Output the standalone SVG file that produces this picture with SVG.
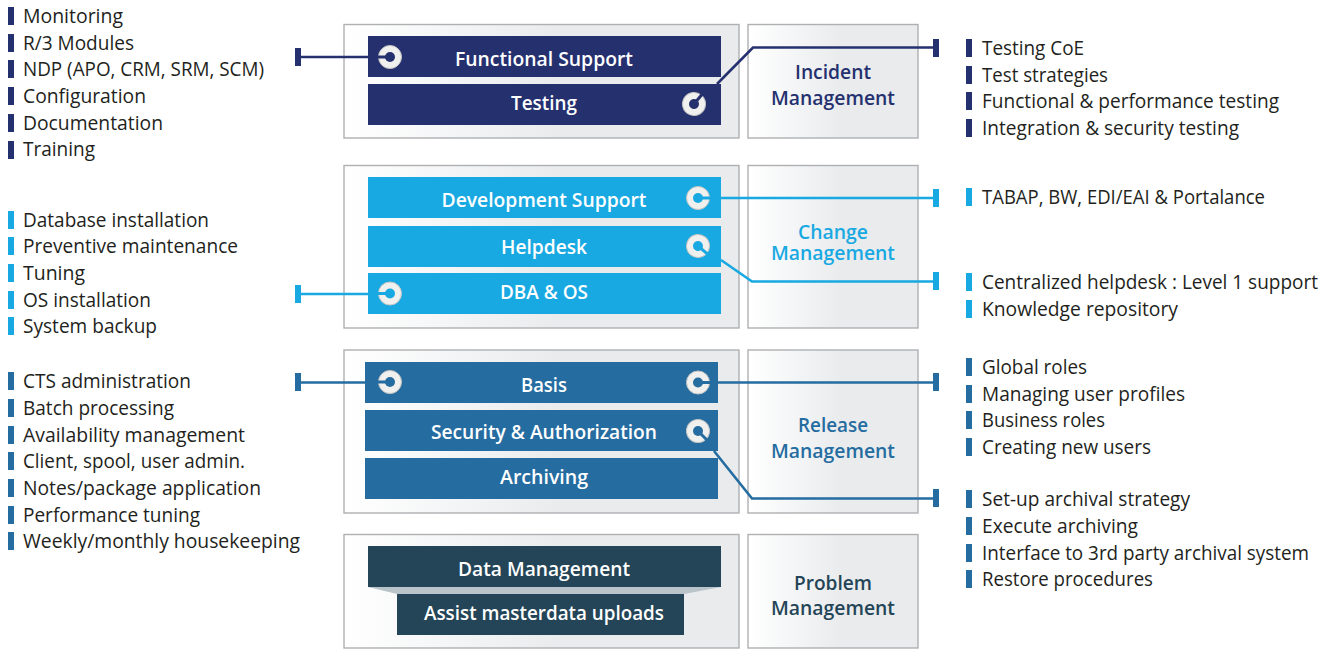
<svg xmlns="http://www.w3.org/2000/svg" width="1334" height="649" viewBox="0 0 1334 649">
<style>
text{font-family:"Open Sans","Noto Sans","Liberation Sans",sans-serif}
.li{font-size:19.5px;fill:#231f20}
.bx{font-size:20.5px;font-weight:600;fill:#fff;text-anchor:middle}
.sd{font-size:20px;font-weight:600;text-anchor:middle}
.panel{fill:url(#pg);stroke:#aeb0b2;stroke-width:1.4}
.navy{fill:#25306f;color:#25306f}
.sky{fill:#19a9e2;color:#19a9e2}
.mid{fill:#256ca1;color:#256ca1}
.dark{fill:#244557;color:#244557}
.ln{fill:none;stroke-width:2.6}
</style>
<defs>
<linearGradient id="pg" x1="0" x2="1" y1="0" y2="0"><stop offset="0" stop-color="#fff"/><stop offset=".55" stop-color="#e9ebed"/><stop offset="1" stop-color="#e9ebed"/></linearGradient>
<g id="ring"><circle r="11.500" fill="#f0f0ee" stroke="#c4c4c4" stroke-width="1"/><circle r="5" fill="currentColor"/><path d="M0 0H13" stroke="currentColor" stroke-width="3"/></g>
</defs>
<rect width="1334" height="649" fill="#fff"/>

<g id="group-incident">
<rect class="panel" x="344" y="24.500" width="395" height="113.500"/>
<rect class="panel" x="748" y="24.500" width="170" height="113.500"/>
<text class="sd navy" x="833" y="79" textLength="76" lengthAdjust="spacingAndGlyphs">Incident</text>
<text class="sd navy" x="833" y="105" textLength="124" lengthAdjust="spacingAndGlyphs">Management</text>
</g>
<g id="group-change">
<rect class="panel" x="344" y="165.500" width="395" height="162.500"/>
<rect class="panel" x="748" y="165.500" width="170" height="162.500"/>
<text class="sd sky" x="833" y="239" textLength="70" lengthAdjust="spacingAndGlyphs">Change</text>
<text class="sd sky" x="833" y="260" textLength="124" lengthAdjust="spacingAndGlyphs">Management</text>
</g>
<g id="group-release">
<rect class="panel" x="344" y="350" width="395" height="163"/>
<rect class="panel" x="748" y="350" width="170" height="163"/>
<text class="sd mid" x="833" y="432" textLength="70" lengthAdjust="spacingAndGlyphs">Release</text>
<text class="sd mid" x="833" y="458" textLength="124" lengthAdjust="spacingAndGlyphs">Management</text>
</g>
<g id="group-problem">
<rect class="panel" x="344" y="534.500" width="395" height="113.500"/>
<rect class="panel" x="748" y="534.500" width="170" height="113.500"/>
<text class="sd dark" x="833" y="590" textLength="78" lengthAdjust="spacingAndGlyphs">Problem</text>
<text class="sd dark" x="833" y="615" textLength="124" lengthAdjust="spacingAndGlyphs">Management</text>
</g>

<g id="node-functional-support">
<rect class="navy" x="368" y="36" width="353" height="41"/>
<use href="#ring" class="navy" transform="translate(390 57) rotate(180)"/>
<text class="bx" x="544" y="66" textLength="178" lengthAdjust="spacingAndGlyphs">Functional Support</text>
</g>
<g id="node-testing">
<rect class="navy" x="368" y="84" width="353" height="41"/>
<use href="#ring" class="navy" transform="translate(694 104) rotate(-50)"/>
<text class="bx" x="544" y="110" textLength="66" lengthAdjust="spacingAndGlyphs">Testing</text>
</g>
<g id="node-development-support">
<rect class="sky" x="368" y="177" width="353" height="41"/>
<use href="#ring" class="sky" transform="translate(698 198)"/>
<text class="bx" x="544" y="207" textLength="205" lengthAdjust="spacingAndGlyphs">Development Support</text>
</g>
<g id="node-helpdesk">
<rect class="sky" x="368" y="226" width="353" height="41"/>
<use href="#ring" class="sky" transform="translate(698 246) rotate(40)"/>
<text class="bx" x="544" y="254" textLength="86" lengthAdjust="spacingAndGlyphs">Helpdesk</text>
</g>
<g id="node-dba-os">
<rect class="sky" x="368" y="273" width="353" height="41"/>
<use href="#ring" class="sky" transform="translate(390 293.500) rotate(180)"/>
<text class="bx" x="544" y="299" textLength="88" lengthAdjust="spacingAndGlyphs">DBA &amp; OS</text>
</g>
<g id="node-basis">
<rect class="mid" x="365" y="362" width="353" height="41"/>
<use href="#ring" class="mid" transform="translate(390 382) rotate(180)"/>
<use href="#ring" class="mid" transform="translate(698 382.500)"/>
<text class="bx" x="544" y="392" textLength="46" lengthAdjust="spacingAndGlyphs">Basis</text>
</g>
<g id="node-security-authorization">
<rect class="mid" x="365" y="410" width="353" height="41"/>
<use href="#ring" class="mid" transform="translate(698 431) rotate(45)"/>
<text class="bx" x="544" y="439" textLength="226" lengthAdjust="spacingAndGlyphs">Security &amp; Authorization</text>
</g>
<g id="node-archiving">
<rect class="mid" x="365" y="458" width="353" height="41"/>
<text class="bx" x="544" y="484" textLength="88" lengthAdjust="spacingAndGlyphs">Archiving</text>
</g>
<g id="node-data-management">
<polygon points="368,587 721,587 684,594 397,594" fill="#b9c4ca"/>
<rect class="dark" x="368" y="546" width="353" height="41"/>
<text class="bx" x="544" y="576" textLength="172" lengthAdjust="spacingAndGlyphs">Data Management</text>
</g>
<g id="node-assist-masterdata">
<rect class="dark" x="397" y="594" width="287" height="41"/>
<text class="bx" x="544" y="620" textLength="240" lengthAdjust="spacingAndGlyphs">Assist masterdata uploads</text>
</g>

<g id="connectors">
<g stroke="#25306f" class="ln">
<path d="M298 57H368"/><path d="M717 84L753 47.500H936"/>
</g>
<g stroke="#19a9e2" class="ln">
<path d="M721 198H936"/><path d="M721 260L752 281.500H936"/><path d="M298 294H368"/>
</g>
<g stroke="#256ca1" class="ln">
<path d="M298 382.500H365"/><path d="M718 382.500H936"/><path d="M714 451L752 498.500H936"/>
</g>
<g class="navy"><rect x="295" y="48" width="6" height="18"/><rect x="933" y="39" width="6" height="18"/></g>
<g class="sky"><rect x="933" y="189" width="6" height="18"/><rect x="933" y="272" width="6" height="18"/><rect x="295" y="285" width="6" height="18"/></g>
<g class="mid"><rect x="295" y="373" width="6" height="18"/><rect x="933" y="373" width="6" height="18"/><rect x="933" y="489" width="6" height="18"/></g>
</g>

<g id="list-functional">
<g class="navy"><rect x="8" y="7" width="6" height="18"/><rect x="8" y="34" width="6" height="18"/><rect x="8" y="60" width="6" height="18"/><rect x="8" y="87" width="6" height="18"/><rect x="8" y="114" width="6" height="18"/><rect x="8" y="141" width="6" height="18"/></g>
<text class="li" x="23" y="23" textLength="100" lengthAdjust="spacingAndGlyphs">Monitoring</text>
<text class="li" x="23" y="50" textLength="111" lengthAdjust="spacingAndGlyphs">R/3 Modules</text>
<text class="li" x="23" y="76" textLength="241" lengthAdjust="spacingAndGlyphs">NDP (APO, CRM, SRM, SCM)</text>
<text class="li" x="23" y="103" textLength="123" lengthAdjust="spacingAndGlyphs">Configuration</text>
<text class="li" x="23" y="130" textLength="140" lengthAdjust="spacingAndGlyphs">Documentation</text>
<text class="li" x="23" y="156" textLength="72" lengthAdjust="spacingAndGlyphs">Training</text>
</g>
<g id="list-dba">
<g class="sky"><rect x="8" y="211" width="6" height="18"/><rect x="8" y="237" width="6" height="18"/><rect x="8" y="264" width="6" height="18"/><rect x="8" y="291" width="6" height="18"/><rect x="8" y="317" width="6" height="18"/></g>
<text class="li" x="23" y="227" textLength="186" lengthAdjust="spacingAndGlyphs">Database installation</text>
<text class="li" x="23" y="253" textLength="215" lengthAdjust="spacingAndGlyphs">Preventive maintenance</text>
<text class="li" x="23" y="280" textLength="62" lengthAdjust="spacingAndGlyphs">Tuning</text>
<text class="li" x="23" y="307" textLength="128" lengthAdjust="spacingAndGlyphs">OS installation</text>
<text class="li" x="23" y="333" textLength="134" lengthAdjust="spacingAndGlyphs">System backup</text>
</g>
<g id="list-basis">
<g class="mid"><rect x="8" y="372" width="6" height="18"/><rect x="8" y="399" width="6" height="18"/><rect x="8" y="426" width="6" height="18"/><rect x="8" y="452" width="6" height="18"/><rect x="8" y="479" width="6" height="18"/><rect x="8" y="506" width="6" height="18"/><rect x="8" y="532" width="6" height="18"/></g>
<text class="li" x="23" y="388" textLength="168" lengthAdjust="spacingAndGlyphs">CTS administration</text>
<text class="li" x="23" y="415" textLength="151" lengthAdjust="spacingAndGlyphs">Batch processing</text>
<text class="li" x="23" y="442" textLength="222" lengthAdjust="spacingAndGlyphs">Availability management</text>
<text class="li" x="23" y="468" textLength="222" lengthAdjust="spacingAndGlyphs">Client, spool, user admin.</text>
<text class="li" x="23" y="495" textLength="238" lengthAdjust="spacingAndGlyphs">Notes/package application</text>
<text class="li" x="23" y="522" textLength="177" lengthAdjust="spacingAndGlyphs">Performance tuning</text>
<text class="li" x="23" y="548" textLength="277" lengthAdjust="spacingAndGlyphs">Weekly/monthly housekeeping</text>
</g>
<g id="list-testing">
<g class="navy"><rect x="966" y="39" width="6" height="18"/><rect x="966" y="66" width="6" height="18"/><rect x="966" y="92" width="6" height="18"/><rect x="966" y="119" width="6" height="18"/></g>
<text class="li" x="982" y="55" textLength="102" lengthAdjust="spacingAndGlyphs">Testing CoE</text>
<text class="li" x="982" y="82" textLength="126" lengthAdjust="spacingAndGlyphs">Test strategies</text>
<text class="li" x="982" y="108" textLength="297" lengthAdjust="spacingAndGlyphs">Functional &amp; performance testing</text>
<text class="li" x="982" y="135" textLength="257" lengthAdjust="spacingAndGlyphs">Integration &amp; security testing</text>
</g>
<g id="list-development">
<rect class="sky" x="966" y="188" width="6" height="18"/>
<text class="li" x="982" y="204" textLength="283" lengthAdjust="spacingAndGlyphs">TABAP, BW, EDI/EAI &amp; Portalance</text>
</g>
<g id="list-helpdesk">
<g class="sky"><rect x="966" y="273" width="6" height="18"/><rect x="966" y="300" width="6" height="18"/></g>
<text class="li" x="982" y="289" textLength="336" lengthAdjust="spacingAndGlyphs">Centralized helpdesk : Level 1 support</text>
<text class="li" x="982" y="316" textLength="196" lengthAdjust="spacingAndGlyphs">Knowledge repository</text>
</g>
<g id="list-security">
<g class="mid"><rect x="966" y="358" width="6" height="18"/><rect x="966" y="385" width="6" height="18"/><rect x="966" y="411" width="6" height="18"/><rect x="966" y="438" width="6" height="18"/></g>
<text class="li" x="982" y="374" textLength="105" lengthAdjust="spacingAndGlyphs">Global roles</text>
<text class="li" x="982" y="401" textLength="203" lengthAdjust="spacingAndGlyphs">Managing user profiles</text>
<text class="li" x="982" y="427" textLength="123" lengthAdjust="spacingAndGlyphs">Business roles</text>
<text class="li" x="982" y="454" textLength="169" lengthAdjust="spacingAndGlyphs">Creating new users</text>
</g>
<g id="list-archiving">
<g class="mid"><rect x="966" y="490" width="6" height="18"/><rect x="966" y="517" width="6" height="18"/><rect x="966" y="544" width="6" height="18"/><rect x="966" y="570" width="6" height="18"/></g>
<text class="li" x="982" y="506" textLength="208" lengthAdjust="spacingAndGlyphs">Set-up archival strategy</text>
<text class="li" x="982" y="533" textLength="156" lengthAdjust="spacingAndGlyphs">Execute archiving</text>
<text class="li" x="982" y="560" textLength="327" lengthAdjust="spacingAndGlyphs">Interface to 3rd party archival system</text>
<text class="li" x="982" y="586" textLength="171" lengthAdjust="spacingAndGlyphs">Restore procedures</text>
</g>
</svg>
